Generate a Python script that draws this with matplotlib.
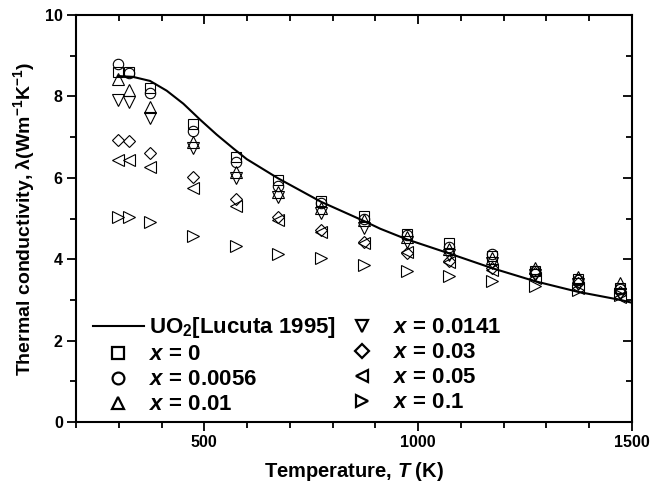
import numpy as np
import matplotlib
matplotlib.use('Agg')
import matplotlib.pyplot as plt
from matplotlib.lines import Line2D
from matplotlib.ticker import MultipleLocator

plt.rcParams['font.family'] = ['Liberation Sans', 'DejaVu Sans']
plt.rcParams['font.weight'] = 'bold'
plt.rcParams['axes.labelweight'] = 'bold'
plt.rcParams['mathtext.fontset'] = 'custom'
plt.rcParams['mathtext.rm'] = 'Liberation Sans:bold'
plt.rcParams['mathtext.it'] = 'Liberation Sans:bold:italic'
plt.rcParams['mathtext.bf'] = 'Liberation Sans:bold'
plt.rcParams['mathtext.default'] = 'regular'

# 测量温度 (K)
temps = [298, 323, 373, 473, 573, 673, 773, 873, 973, 1073, 1173, 1273, 1373, 1473]

# 各掺杂量的热导率 (W m-1 K-1)
k_x0 = [8.59, 8.61, 8.20, 7.32, 6.52, 5.95, 5.43, 5.07, 4.62, 4.39, 4.08, 3.72, 3.52, 3.30]
k_x0056 = [8.79, 8.57, 8.09, 7.16, 6.38, 5.81, 5.38, 5.00, 4.60, 4.29, 4.12, 3.70, 3.50, 3.28]
k_x001 = [8.43, 8.16, 7.75, 6.89, 6.15, 5.66, 5.26, 4.96, 4.55, 4.24, 4.02, 3.78, 3.57, 3.41]
k_x00141 = [7.91, 7.85, 7.46, 6.72, 6.00, 5.54, 5.13, 4.76, 4.43, 4.10, 3.90, 3.60, 3.40, 3.15]
k_x003 = [6.93, 6.90, 6.62, 6.01, 5.48, 5.03, 4.72, 4.43, 4.16, 3.96, 3.78, 3.65, 3.42, 3.20]
k_x005 = [6.44, 6.44, 6.26, 5.74, 5.31, 4.96, 4.68, 4.39, 4.18, 3.94, 3.73, 3.55, 3.30, 3.08]
k_x01 = [5.04, 5.04, 4.91, 4.57, 4.32, 4.14, 4.02, 3.86, 3.72, 3.59, 3.47, 3.34, 3.24, 3.12]

# UO2 参考曲线 (Lucuta 1995)
lucuta_T = [298, 333, 373, 412, 451, 490, 529, 568, 599, 672, 773, 873, 911,
            973, 1073, 1173, 1273, 1373, 1473, 1500]
lucuta_k = [8.50, 8.48, 8.38, 8.14, 7.82, 7.43, 7.06, 6.72, 6.46, 5.99, 5.41, 4.94, 4.75,
            4.49, 4.14, 3.78, 3.46, 3.20, 3.00, 2.93]

series = [
    (k_x0, 's', 7.5, r'$\mathit{x}$ = 0'),
    (k_x0056, 'o', 7.5, r'$\mathit{x}$ = 0.0056'),
    (k_x001, '^', 8, r'$\mathit{x}$ = 0.01'),
    (k_x00141, 'v', 8, r'$\mathit{x}$ = 0.0141'),
    (k_x003, 'D', 6.5, r'$\mathit{x}$ = 0.03'),
    (k_x005, '<', 8, r'$\mathit{x}$ = 0.05'),
    (k_x01, '>', 8, r'$\mathit{x}$ = 0.1'),
]

fig = plt.figure(figsize=(6.52, 4.88), dpi=100)
ax = fig.add_axes([0.1166, 0.1352, 0.8527, 0.8341])

ax.plot(lucuta_T, lucuta_k, color='black', lw=1.5)
for vals, mk, ms, lab in series:
    ax.plot(temps, vals, linestyle='none', marker=mk, ms=ms, mfc='none',
            mec='black', mew=0.8)

# 图例用单独的句柄，线条更粗
handles = [Line2D([], [], color='black', lw=1.5)]
labels = [r'UO$_2$[Lucuta 1995]']
for vals, mk, ms, lab in series:
    handles.append(Line2D([], [], linestyle='none', marker=mk, ms=ms + 1, mfc='none',
                          mec='black', mew=1.6))
    labels.append(lab)
ax.legend(handles, labels, ncol=2, frameon=False, loc='lower left',
          bbox_to_anchor=(0.018, 0.0), fontsize=16, handlelength=2.3,
          handletextpad=0.25, columnspacing=0.0, labelspacing=0.18,
          borderaxespad=0.1, borderpad=0.2)

ax.set_xlim(200, 1500)
ax.set_ylim(0, 10)
ax.xaxis.set_major_locator(MultipleLocator(500))
ax.xaxis.set_minor_locator(MultipleLocator(100))
ax.yaxis.set_major_locator(MultipleLocator(2))
ax.yaxis.set_minor_locator(MultipleLocator(1))
ax.tick_params(which='both', direction='out', width=1.3, labelsize=11.5, pad=3)
ax.tick_params(which='major', length=6.5)
ax.tick_params(which='minor', length=4)
ax.tick_params(which='both', top=True, right=True)
for spine in ax.spines.values():
    spine.set_linewidth(1.5)

# 顶部和右侧刻度朝内
for t in ax.xaxis.get_major_ticks() + ax.xaxis.get_minor_ticks():
    t.tick2line.set_marker(3)
for t in ax.yaxis.get_major_ticks() + ax.yaxis.get_minor_ticks():
    t.tick2line.set_marker(0)

ax.set_xlabel(r'Temperature, $\mathit{T}$ (K)', fontsize=14.5, labelpad=7)
ax.set_ylabel(r'Thermal conductivity, λ(Wm$^{-1}$K$^{-1}$)', fontsize=14, labelpad=6)

fig.savefig('out.png', dpi=100)
